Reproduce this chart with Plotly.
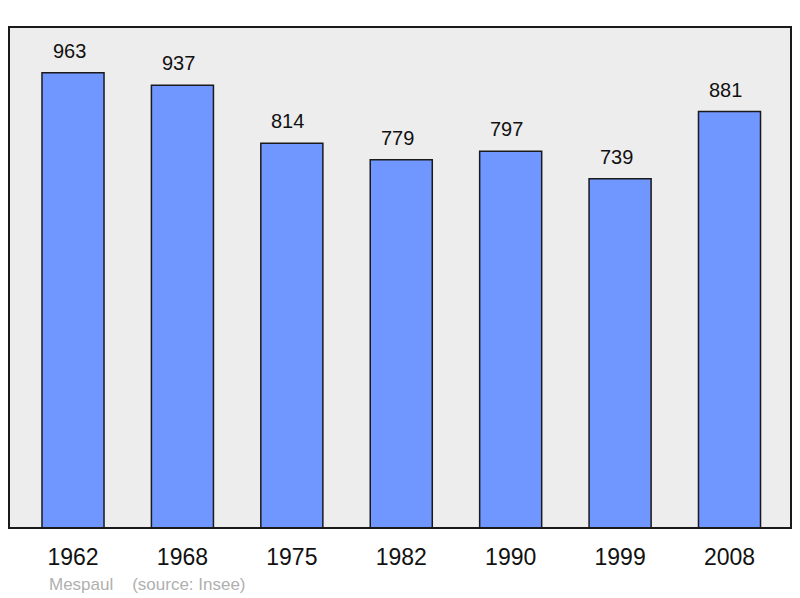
import plotly.graph_objects as go

years = ["1962", "1968", "1975", "1982", "1990", "1999", "2008"]
population = [963, 937, 814, 779, 797, 739, 881]
commune = "Mespaul"
source = "(source: Insee)"

xs = list(range(len(years)))

fig = go.Figure()
fig.add_trace(go.Bar(
    x=xs, y=population, width=0.567,
    marker=dict(color="#7096ff", line=dict(color="#1a1a1a", width=1.5)),
    hoverinfo="skip",
))
for x, v in zip(xs, population):
    fig.add_annotation(x=x, y=v, text=str(v), showarrow=False, yanchor="bottom",
                       yshift=9, xshift=-4,
                       font=dict(family="Liberation Sans, Arial", size=20, color="#111"))

fig.add_annotation(xref="paper", yref="paper", x=(47-9)/782, y=-(584-528)/501,
                   xanchor="left", yanchor="middle", showarrow=False,
                   text=commune + "&nbsp;&nbsp;&nbsp;&nbsp;" + source,
                   font=dict(family="Liberation Sans, Arial", size=17, color="#b0b0b0"))

fig.add_shape(type="rect", xref="paper", yref="paper", x0=0, y0=0, x1=1, y1=1,
              line=dict(color="#1a1a1a", width=2), layer="above")

fig.update_layout(
    width=800, height=598,
    margin=dict(l=9, r=9, t=27, b=70),
    paper_bgcolor="white", plot_bgcolor="#ededed",
    showlegend=False,
    xaxis=dict(range=[-0.585, 6.562], tickvals=xs, ticktext=years, showgrid=False,
               zeroline=False, ticks="outside", ticklen=8, tickcolor="rgba(0,0,0,0)",
               tickfont=dict(family="Liberation Sans, Arial", size=23, color="#111"),
               fixedrange=True),
    yaxis=dict(range=[0, 1060], visible=False, showgrid=False, zeroline=False, fixedrange=True),
)

fig.write_html("out.html", config={"displayModeBar": False},
               post_script="document.body.style.margin='0';document.body.style.padding='0';")
